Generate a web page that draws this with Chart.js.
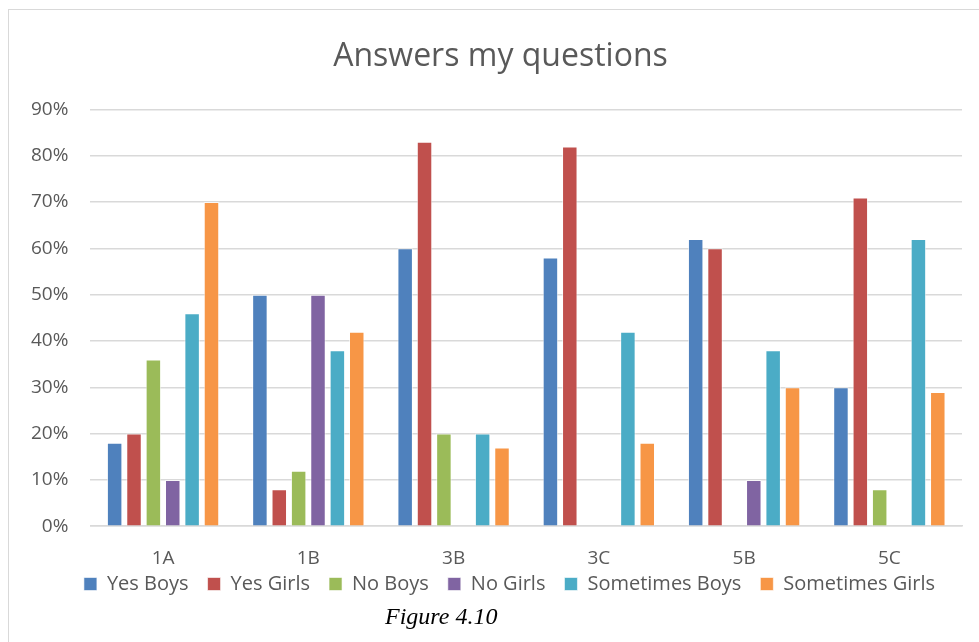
<!DOCTYPE html>
<html>
<head>
<meta charset="utf-8">
<script src="https://cdn.jsdelivr.net/npm/chart.js@4"></script>
<style>
  body { margin: 0; background: #fff; }
  #frame { position: absolute; left: 8px; top: 9px; width: 980px; height: 650px; border: 1px solid #d9d9d9; }
  #wrap { position: absolute; left: 0; top: 0; width: 979px; height: 605px; }
  #caption { position: absolute; left: 385px; top: 603px; font: italic 24px "Liberation Serif", serif; color: #000; }
</style>
</head>
<body>
<div id="frame"></div>
<div id="wrap"><canvas id="myChart"></canvas></div>
<div id="caption">Figure 4.10</div>
<script>
const categories = ['1A', '1B', '3B', '3C', '5B', '5C'];
const yesBoys = [18, 50, 60, 58, 62, 30];
const yesGirls = [20, 8, 83, 82, 60, 71];
const noBoys = [36, 12, 20, 0, 0, 8];
const noGirls = [10, 50, 0, 0, 10, 0];
const sometimesBoys = [46, 38, 20, 42, 38, 62];
const sometimesGirls = [70, 42, 17, 18, 30, 29];

const seriesNames = ['Yes Boys', 'Yes Girls', 'No Boys', 'No Girls', 'Sometimes Boys', 'Sometimes Girls'];
const seriesValues = [yesBoys, yesGirls, noBoys, noGirls, sometimesBoys, sometimesGirls];
const colors = ['#4f81bd', '#c0504d', '#9bbb59', '#8064a2', '#4bacc6', '#f79646'];

const textColor = '#595959';
const uiFont = '"Open Sans", sans-serif';

// nudge title and legend so they sit where Excel put them
const nudge = {
  id: 'nudge',
  afterLayout(chart) {
    const t = chart.titleBlock;
    t.left += 15; t.right += 15;
    const l = chart.legend;
    l.left += 24; l.right += 24;
    l.top -= 36; l.bottom -= 36;
  }
};

const ctx = document.getElementById('myChart').getContext('2d');
new Chart(ctx, {
  type: 'bar',
  data: {
    labels: categories,
    datasets: seriesNames.map((name, i) => ({
      label: name,
      data: seriesValues[i],
      backgroundColor: colors[i],
      borderColor: 'rgba(255,255,255,0.6)',
      borderWidth: 1,
      categoryPercentage: 0.8,
      barPercentage: 0.8
    }))
  },
  options: {
    responsive: true,
    maintainAspectRatio: false,
    animation: false,
    layout: { padding: { left: 9, right: 17, top: 0, bottom: -35 } },
    plugins: {
      title: {
        display: true,
        text: 'Answers my questions',
        color: textColor,
        font: { family: uiFont, size: 32, weight: 'normal' },
        padding: { top: 38, bottom: 33 }
      },
      legend: {
        position: 'bottom',
        labels: {
          color: textColor,
          font: { family: uiFont, size: 20 },
          boxWidth: 13,
          boxHeight: 13,
          padding: 19
        }
      },
      tooltip: { enabled: false }
    },
    scales: {
      x: {
        grid: { display: false, drawTicks: false },
        border: { color: '#d9d9d9', width: 1.5 },
        ticks: { color: textColor, font: { family: uiFont, size: 19 }, padding: 21 }
      },
      y: {
        min: 0,
        max: 90,
        grid: { color: '#d9d9d9', lineWidth: 1.5, drawTicks: false },
        border: { display: false },
        ticks: {
          stepSize: 10,
          color: textColor,
          font: { family: uiFont, size: 19 },
          padding: 22,
          callback: v => v + '%'
        }
      }
    }
  },
  plugins: [nudge]
});
</script>
</body>
</html>
